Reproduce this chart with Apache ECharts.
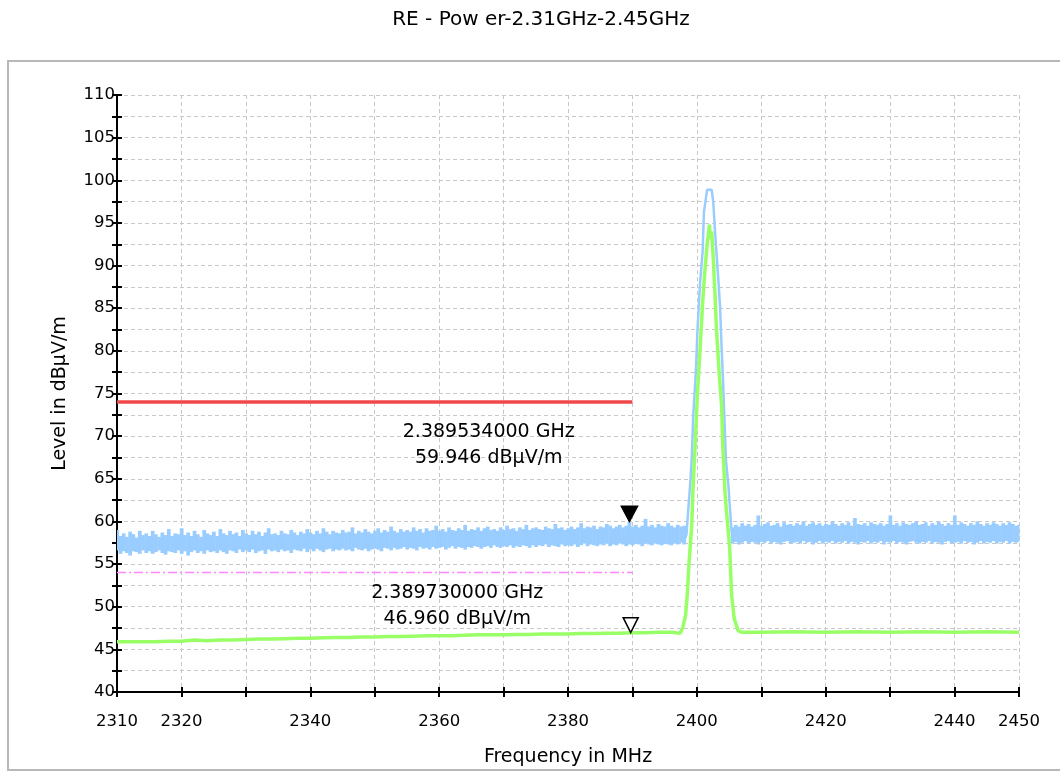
<!DOCTYPE html>
<html>
<head>
<meta charset="utf-8">
<script src="https://cdn.jsdelivr.net/npm/echarts@6/dist/echarts.min.js"></script>
<style>html,body{margin:0;padding:0;background:#fff;}#c{width:1060px;height:772px;}</style>
</head>
<body>
<div id="c"></div>
<script>
// ---------- data ----------
const titleText = 'RE - Pow er-2.31GHz-2.45GHz';
const xName = 'Frequency in MHz';
const yName = 'Level in dBµV/m';
const xMin = 2310, xMax = 2450, xStep = 10;
const yMin = 40, yMax = 110, yStep = 2.5;
const xTickLabels = [2310, 2320, 2340, 2360, 2380, 2400, 2420, 2440, 2450];
const yTickLabels = [40, 45, 50, 55, 60, 65, 70, 75, 80, 85, 90, 95, 100, 105, 110];

// limit lines
const limitPeakX = [2310, 2390];
const limitPeakV = [74, 74];
const limitAvgX = [2310, 2390];
const limitAvgV = [54, 54];

// blue (peak detector) trace: noise envelope samples every 0.5 MHz
const noiseStep = 0.5;
const blueLeftStart = 2310;
const blueHiL = [
 59.0,58.3,58.6,58.2,58.8,58.5,58.1,58.9,58.4,58.6,
 58.3,58.9,58.5,58.2,58.7,58.4,59.1,58.3,58.6,58.5,
 59.2,58.4,58.7,58.3,58.9,58.5,58.2,59.0,58.6,58.4,
 58.8,58.3,59.1,58.6,58.4,58.9,58.5,58.7,58.3,59.0,
 58.6,58.4,58.9,58.5,58.8,58.3,58.7,59.2,58.5,58.6,
 58.4,58.9,58.6,58.5,59.0,58.7,58.4,58.8,58.6,59.1,
 58.7,58.5,58.9,58.6,59.2,58.8,58.5,58.9,58.7,58.6,
 59.0,58.7,58.8,59.3,58.6,58.9,58.7,59.1,58.8,58.6,
 58.9,59.2,58.7,59.0,58.8,59.4,58.9,58.7,59.1,58.8,
 59.0,58.8,59.3,58.9,59.1,58.7,59.2,58.9,59.0,59.5,
 58.9,59.1,58.8,59.3,59.0,58.9,59.2,59.0,59.6,58.9,
 59.1,59.0,59.3,58.9,59.2,59.4,59.0,59.1,58.9,59.3,
 59.0,59.5,59.1,59.2,58.9,59.3,59.1,59.6,59.0,59.2,
 59.3,59.1,59.0,59.4,59.2,59.1,59.7,59.2,59.3,59.0,
 59.2,59.4,59.1,59.3,59.8,59.2,59.4,59.3,59.5,59.1,
 59.4,59.3,59.7,59.5,59.2,59.4,59.6,59.3,59.5,59.95,
 59.4,59.6,59.3,59.5,60.3,59.4,59.6,59.3,59.7,59.5,
 59.4,59.8,59.5,59.3,59.6,59.4,59.5
];
const blueLoL = [
 56.6,56.2,56.5,56.3,56.0,56.5,56.4,56.2,56.6,56.3,
 56.5,56.2,56.4,56.6,56.3,56.1,56.5,56.4,56.3,56.6,
 56.2,56.5,56.0,56.4,56.6,56.3,56.5,56.2,56.6,56.4,
 56.5,56.3,56.6,56.4,56.2,56.6,56.5,56.3,56.7,56.4,
 56.6,56.4,56.7,56.3,56.5,56.6,56.2,56.7,56.5,56.6,
 56.4,56.7,56.5,56.6,56.3,56.7,56.6,56.5,56.8,56.4,
 56.7,56.5,56.8,56.6,56.4,56.7,56.8,56.5,56.7,56.6,
 56.8,56.6,56.7,56.5,56.9,56.7,56.6,56.8,56.5,56.7,
 56.8,56.7,56.5,56.9,56.8,56.6,56.9,56.7,56.8,57.0,
 56.7,56.9,56.8,56.6,57.0,56.8,56.9,56.7,57.0,56.8,
 56.9,57.0,56.7,56.9,57.1,56.8,57.0,56.9,56.7,57.0,
 56.9,57.1,57.0,56.8,57.0,57.1,56.9,57.2,57.0,56.9,
 57.1,57.0,57.2,56.9,57.1,57.0,57.2,57.1,56.9,57.2,
 57.0,57.2,57.1,57.3,57.0,57.2,57.1,57.0,57.3,57.1,
 57.2,57.1,57.3,57.0,57.2,57.4,57.1,57.3,57.2,57.1,
 57.3,57.2,57.4,57.1,57.3,57.2,57.4,57.3,57.1,57.3,
 57.2,57.4,57.3,57.1,57.4,57.3,57.2,57.4,57.3,57.2,
 57.4,57.3,57.2,57.4,57.3,57.5,57.3
];
const bluePeakF = [2398.2,2398.4,2398.6,2398.95,2399.2,2399.43,2399.84,2400.1,2400.5,2400.9,2401.1,2401.6,2402.3,2402.55,2402.8,2403.3,2403.6,2403.85,2404.1,2404.5,2404.9,2405.1,2405.4,2405.6];
const bluePeakV = [58.0,58.5,60.7,64.2,67.3,72.3,77.5,82.5,88.0,91.7,96.3,98.9,98.9,97.4,94.2,88.7,85.2,80.2,75.8,67.3,64.2,61.9,58.8,58.4];
const blueRightStart = 2405.5;
const blueHiR = [
 59.3,59.6,59.4,59.8,59.5,59.7,59.4,59.6,60.7,59.5,
 59.7,59.9,59.5,59.6,59.8,59.4,59.9,59.6,59.7,59.5,
 59.8,59.6,60.0,59.5,59.7,59.9,59.6,59.8,59.5,59.7,
 59.6,60.0,59.7,59.5,59.8,59.6,59.9,59.5,60.4,59.7,
 59.6,59.8,59.5,59.9,59.7,59.6,59.8,59.5,59.7,60.7,
 59.6,59.8,59.5,59.9,59.7,59.6,59.8,60.0,59.6,59.7,
 59.9,59.5,59.8,59.6,60.0,59.7,59.5,59.8,59.6,60.7,
 59.6,59.9,59.7,59.5,59.8,59.6,60.0,59.7,59.5,59.8,
 59.6,59.9,59.7,59.5,59.8,59.6,59.9,59.7,59.5,59.6
];
const blueLoR = [
 57.4,57.6,57.3,57.5,57.7,57.4,57.6,57.5,57.3,57.6,
 57.5,57.7,57.4,57.6,57.5,57.3,57.6,57.7,57.4,57.5,
 57.6,57.4,57.7,57.5,57.6,57.3,57.5,57.7,57.4,57.6,
 57.5,57.7,57.4,57.6,57.5,57.7,57.4,57.6,57.5,57.3,
 57.6,57.5,57.7,57.4,57.6,57.5,57.7,57.3,57.6,57.5,
 57.7,57.4,57.6,57.5,57.3,57.6,57.7,57.5,57.4,57.6,
 57.5,57.7,57.4,57.6,57.5,57.3,57.6,57.7,57.4,57.5,
 57.6,57.4,57.7,57.5,57.6,57.3,57.5,57.7,57.4,57.6,
 57.5,57.7,57.4,57.6,57.5,57.7,57.4,57.6,57.5,57.6
];

// green (average detector) trace
const greenF = [2310,2312,2314,2316,2318,2320,2322,2324,2326,2328,2330,2332,2334,2336,2338,2340,2342,2344,2346,2348,2350,2352,2354,2356,2358,2360,2362,2364,2366,2368,2370,2372,2374,2376,2378,2380,2382,2384,2386,2388,2390,2392,2394,2396,2397.4,
 2397.8,2398.25,2398.5,2398.8,2399.2,2399.4,2399.8,2400.1,2400.5,2400.9,2401.3,2401.6,2401.8,2401.95,2402.1,2402.3,2402.5,2402.8,2403.07,2403.5,2403.85,2404.0,2404.4,2405.1,2405.4,2405.8,2406.4,
 2407,2410,2415,2420,2425,2430,2435,2440,2445,2450];
const greenV = [45.9,45.9,45.9,45.9,45.95,45.95,46.1,46.0,46.1,46.1,46.15,46.2,46.2,46.25,46.3,46.3,46.35,46.4,46.4,46.45,46.45,46.5,46.5,46.55,46.6,46.6,46.6,46.65,46.7,46.7,46.7,46.75,46.75,46.8,46.8,46.8,46.85,46.85,46.9,46.9,46.95,46.95,47.0,47.0,46.9,
 47.5,49.0,51.3,55.3,59.5,63.8,70.0,75.2,80.2,85.7,89.9,92.5,93.8,94.8,93.2,94.0,91.5,86.9,82.2,77.0,73.5,69.3,63.0,56.8,51.3,48.6,47.2,
 47.0,47.0,47.05,47.0,47.05,47.0,47.05,47.0,47.05,47.0];

// markers
const markerPeak = [2389.534, 59.946];
const markerAvg = [2389.73, 46.96];
const markerPeakText = ['2.389534000 GHz', '59.946 dBµV/m'];
const markerAvgText = ['2.389730000 GHz', '46.960 dBµV/m'];
const markerPeakTextPos = [2367.7, 69.0];
const markerAvgTextPos = [2362.8, 50.05];

// ---------- build series data ----------
function band(start, hi, lo) {
  return hi.map((h, i) => [start + i * noiseStep, lo[i], h]);
}
const blueBand = band(blueLeftStart, blueHiL, blueLoL).concat(band(blueRightStart, blueHiR, blueLoR));
const bluePeak = bluePeakF.map((f, i) => [f, bluePeakV[i]]);
const greenData = greenF.map((f, i) => [f, greenV[i]]);

const FONT = 'DejaVu Sans';
const BLUE = '#99ccff';
const chart = echarts.init(document.getElementById('c'), null, {renderer: 'canvas'});

const axisLineStyle = {color: '#000', width: 2};
const splitStyle = {color: '#c8c8c8', width: 1, type: [4, 3]};

chart.setOption({
  animation: false,
  backgroundColor: '#fff',
  title: {
    text: titleText, left: 536, top: 5, textAlign: 'center',
    textStyle: {fontFamily: FONT, fontSize: 20, fontWeight: 'normal', color: '#000'}
  },
  graphic: [{
    type: 'rect', z: -10, silent: true,
    shape: {x: 8, y: 61, width: 1060, height: 709},
    style: {fill: '#fff', stroke: '#b8b8b8', lineWidth: 2}
  }],
  grid: {left: 117, right: 41, top: 95, bottom: 78, containLabel: false},
  xAxis: [{
    type: 'value', min: xMin, max: xMax, interval: xStep, position: 'bottom',
    name: xName, nameLocation: 'middle', nameGap: 56,
    nameTextStyle: {fontFamily: FONT, fontSize: 19, color: '#000'},
    axisLine: {show: true, lineStyle: axisLineStyle},
    axisTick: {show: true, inside: false, length: 5, lineStyle: {color: '#000', width: 2}},
    axisLabel: {
      margin: 21, fontFamily: FONT, fontSize: 16.5, color: '#000',
      showMinLabel: true, showMaxLabel: true,
      formatter: v => xTickLabels.indexOf(Math.round(v)) >= 0 ? String(Math.round(v)) : ''
    },
    splitLine: {show: true, lineStyle: splitStyle}
  }, {
    type: 'value', min: xMin, max: xMax, interval: xStep, position: 'bottom', offset: 0,
    axisLine: {show: false},
    axisTick: {show: true, inside: true, length: 5, lineStyle: {color: '#000', width: 2}},
    axisLabel: {show: false},
    splitLine: {show: false}
  }],
  yAxis: [{
    type: 'value', min: yMin, max: yMax, interval: yStep, position: 'left',
    name: yName, nameLocation: 'middle', nameGap: 47, nameRotate: 90,
    nameTextStyle: {fontFamily: FONT, fontSize: 19, color: '#000'},
    axisLine: {show: true, lineStyle: axisLineStyle},
    axisTick: {show: true, inside: false, length: 5, lineStyle: {color: '#000', width: 2}},
    axisLabel: {
      margin: 2, fontFamily: FONT, fontSize: 16.5, color: '#000',
      formatter: v => yTickLabels.indexOf(v) >= 0 ? String(v) : ''
    },
    splitLine: {show: true, lineStyle: splitStyle}
  }, {
    type: 'value', min: yMin, max: yMax, interval: yStep, position: 'left', offset: 0,
    axisLine: {show: false},
    axisTick: {show: true, inside: true, length: 5, lineStyle: {color: '#000', width: 2}},
    axisLabel: {show: false},
    splitLine: {show: false}
  }],
  series: [
    {
      name: 'Peak noise', type: 'custom', data: blueBand, z: 3, silent: true,
      renderItem: function (params, api) {
        const f = api.value(0), lo = api.value(1), hi = api.value(2);
        const x1 = Math.max(f - noiseStep / 2, xMin), x2 = Math.min(f + noiseStep / 2, xMax);
        const p1 = api.coord([x1, hi]);
        const p2 = api.coord([x2, lo]);
        return {
          type: 'rect',
          shape: {x: p1[0], y: p1[1], width: p2[0] - p1[0] + 0.5, height: p2[1] - p1[1]},
          style: {fill: BLUE}
        };
      }
    },
    {
      name: 'Peak', type: 'line', data: bluePeak, showSymbol: false, symbol: 'none',
      lineStyle: {color: BLUE, width: 2.5}, z: 3
    },
    {
      name: 'Average', type: 'line', data: greenData, showSymbol: false, symbol: 'none',
      lineStyle: {color: '#99ff66', width: 3.5}, z: 4
    },
    {
      name: 'Limit PK', type: 'line', data: limitPeakX.map((x, i) => [x, limitPeakV[i]]),
      showSymbol: false, symbol: 'none', lineStyle: {color: '#f04848', width: 3.5}, z: 5
    },
    {
      name: 'Limit AV', type: 'line', data: limitAvgX.map((x, i) => [x, limitAvgV[i]]),
      showSymbol: false, symbol: 'none', lineStyle: {color: '#ff88ff', width: 1.5, type: [9, 3, 2, 3]}, z: 5
    },
    {
      name: 'Marker PK', type: 'scatter', data: [markerPeak], z: 6,
      symbol: 'path://M0,0 L20,0 L10,18 Z', symbolSize: [17, 16], symbolOffset: [0, '-50%'],
      itemStyle: {color: '#000', borderColor: '#000', borderWidth: 1, opacity: 1}
    },
    {
      name: 'Marker AV', type: 'scatter', data: [markerAvg], z: 6,
      symbol: 'path://M0,0 L20,0 L10,18 Z', symbolSize: [15, 15], symbolOffset: [0, '-50%'],
      itemStyle: {color: '#fff', borderColor: '#000', borderWidth: 1.5, opacity: 1}
    },
    {
      name: 'Marker text', type: 'scatter', z: 7, symbolSize: 0, silent: true,
      itemStyle: {opacity: 1},
      data: [
        {value: markerPeakTextPos, label: {formatter: markerPeakText.join('\n')}},
        {value: markerAvgTextPos, label: {formatter: markerAvgText.join('\n')}}
      ],
      label: {
        show: true, position: 'inside', align: 'center', verticalAlign: 'middle',
        fontFamily: FONT, fontSize: 19, lineHeight: 26, color: '#000'
      }
    }
  ]
});
</script>
</body>
</html>
